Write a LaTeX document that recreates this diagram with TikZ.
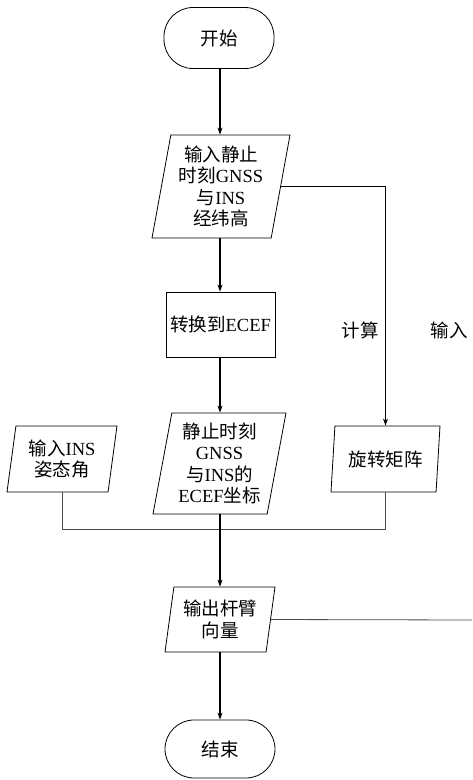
\documentclass[tikz,border=0pt]{standalone}
\usepackage{fontspec}
\setmainfont{Liberation Serif}
\newfontfamily\cjk{Noto Sans CJK SC}
\newcommand{\zh}[1]{{\cjk #1}}
\usetikzlibrary{shapes.geometric,arrows.meta}
\begin{document}
\begin{tikzpicture}[x=1pt,y=-1pt,
  every node/.style={font=\fontsize{18.5pt}{21.5pt}\selectfont, align=center, inner sep=0pt},
  term/.style={draw, line width=0.8pt, rounded corners=29pt, minimum width=#1},
  procbox/.style={draw, line width=0.8pt, minimum width=109pt, minimum height=65pt},
  para/.style={draw, line width=0.8pt, trapezium, trapezium left angle=77, trapezium right angle=103,
    trapezium stretches body, minimum width=#1},
  mainarrow/.style={line width=1.3pt, -{Stealth[length=7pt,width=5pt]}},
  sidearrow/.style={line width=1pt, -{Stealth[length=7pt,width=5pt]}},
  thinline/.style={line width=0.8pt, draw=black!70},
]
\useasboundingbox (0,0) rectangle (472,780);

\node[term=110pt, minimum height=61pt] (start) at (219,38) {\zh{开始}};
\node[para=138pt, minimum height=103pt] (p1) at (221,186.5) {\zh{输入静止}\\\zh{时刻}GNSS\\\zh{与}INS\\\zh{经纬高}};
\node[procbox] (conv) at (220.5,324.5) {\zh{转换到}ECEF};
\node[para=133pt, minimum height=101pt] (p2) at (219.5,463.5) {\zh{静止时刻}\\GNSS\\\zh{与}INS\zh{的}\\ECEF\zh{坐标}};
\node[para=110pt, minimum height=66pt] (pL) at (62,459) {\zh{输入}INS\\\zh{姿态角}};
\node[para=109pt, minimum height=66pt] (pR) at (385.5,459) {\zh{旋转矩阵}};
\node[para=110pt, minimum height=65pt] (p3) at (220,619.5) {\zh{输出杆臂}\\\zh{向量}};
\node[term=110pt, minimum height=58pt] (stop) at (220,749) {\zh{结束}};

\node (calc) at (360,330) {\zh{计算}};
\node (inp) at (449,330) {\zh{输入}};

\coordinate (join) at (220,529);
\coordinate (edge) at (472,620);

\draw[mainarrow] (start.south -| 220,0) -- (p1.north -| 220,0);
\draw[mainarrow] (p1.south -| 220,0) -- (conv.north -| 220,0);
\draw[mainarrow] (conv.south -| 220,0) -- (p2.north -| 220,0);
\draw[sidearrow] (p1.east) -- (p1.east -| pR.north) -- (pR.north);
\draw[thinline] (pL.south) -- (pL.south |- join) -- (pR.south |- join) -- (pR.south);
\draw[mainarrow] (p2.south -| 220,0) -- (p3.north -| 220,0);
\draw[mainarrow] (p3.south -| 220,0) -- (stop.north -| 220,0);
\draw[thinline] (p3.east) -- (edge);
\end{tikzpicture}
\end{document}
